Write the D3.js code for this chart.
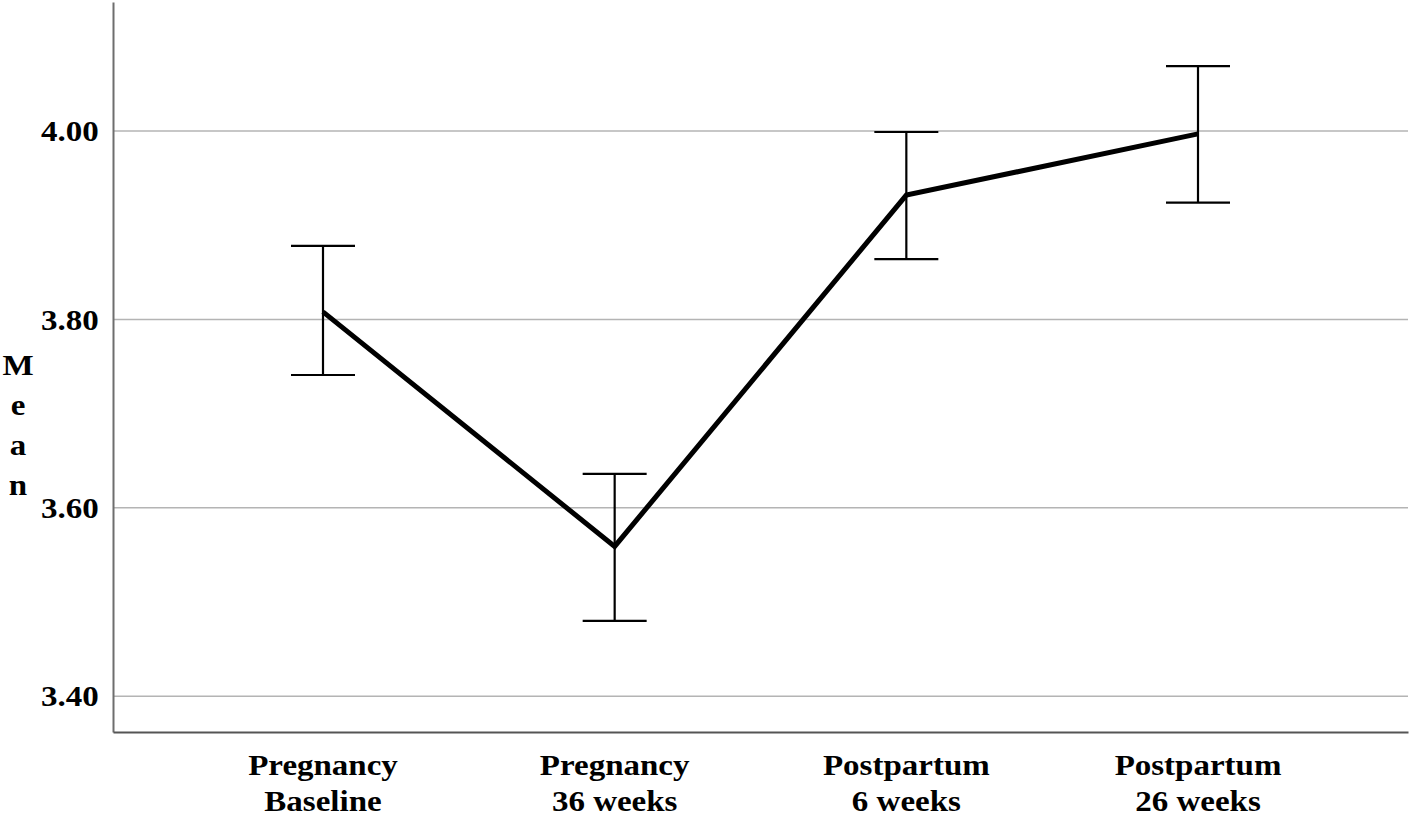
<!DOCTYPE html>
<html><head><meta charset="utf-8">
<script src="https://cdn.jsdelivr.net/npm/d3@7"></script>
<style>body{margin:0;background:#fff}svg{display:block}</style>
</head><body>
<script>
const categories = [["Pregnancy","Baseline"],["Pregnancy","36 weeks"],["Postpartum","6 weeks"],["Postpartum","26 weeks"]];
const means = [3.808, 3.559, 3.932, 3.997];
const upper = [3.878, 3.636, 3.999, 4.069];
const lower = [3.741, 3.480, 3.864, 3.924];
const yTicks = [3.40, 3.60, 3.80, 4.00];
const yLabel = "Mean";

const W = 1418, H = 817;
const m = {left:113, right:10, top:2, bottom:85};
const sx = 1.1;
const svg = d3.select("body").append("svg").attr("width", W).attr("height", H);
const x = d3.scalePoint().domain(d3.range(categories.length)).range([m.left, W - m.right]).padding(0.72);
const y = d3.scaleLinear().domain([3.362, 4.137]).range([H - m.bottom, m.top]);
const font = "'Liberation Serif','Times New Roman',serif";

// gridlines
svg.append("g").selectAll("line").data(yTicks).join("line")
  .attr("x1", m.left).attr("x2", W - m.right)
  .attr("y1", d => y(d)).attr("y2", d => y(d))
  .attr("stroke", "#b4b4b4").attr("stroke-width", 1.5);

// y axis
const ya = svg.append("g").attr("transform", `translate(${m.left},0)`)
  .call(d3.axisLeft(y).tickValues(yTicks).tickFormat(d3.format(".2f")).tickSize(0).tickPadding(13));
ya.select(".domain").attr("stroke", "#6e6e6e").attr("stroke-width", 2);
ya.selectAll("text").attr("font-family", font).attr("font-weight", "bold").attr("font-size", 30).attr("fill", "#000")
  .attr("transform", `scale(${sx},1)`);

// x axis
const xa = svg.append("g").attr("transform", `translate(0,${H - m.bottom})`)
  .call(d3.axisBottom(x).tickSize(0).tickFormat(""));
xa.select(".domain").attr("stroke", "#555").attr("stroke-width", 2);

// category labels
const lab = svg.append("g").selectAll("text").data(categories).join("text")
  .attr("transform", (d,i) => `translate(${x(i)},${H - m.bottom + 43}) scale(${sx},1)`)
  .attr("text-anchor", "middle").attr("font-family", font).attr("font-weight", "bold").attr("font-size", 30);
lab.selectAll("tspan").data(d => d).join("tspan")
  .attr("x", 0).attr("dy", (d,j) => j === 0 ? 0 : 36).text(d => d);

// y label vertical letters
svg.append("g").selectAll("text").data(yLabel.split("")).join("text")
  .attr("transform", (d,i) => `translate(18,${375 + i*40}) scale(${sx},1)`).attr("text-anchor", "middle")
  .attr("font-family", font).attr("font-weight", "bold").attr("font-size", 30).text(d => d);

// error bars
const idx = d3.range(categories.length);
const capW = 32;
const eb = svg.append("g").attr("stroke", "#000").attr("stroke-width", 2.2);
eb.selectAll(".v").data(idx).join("line").attr("x1", i => x(i)).attr("x2", i => x(i))
  .attr("y1", i => y(upper[i])).attr("y2", i => y(lower[i]));
eb.selectAll(".u").data(idx).join("line").attr("x1", i => x(i) - capW).attr("x2", i => x(i) + capW)
  .attr("y1", i => y(upper[i])).attr("y2", i => y(upper[i]));
eb.selectAll(".l").data(idx).join("line").attr("x1", i => x(i) - capW).attr("x2", i => x(i) + capW)
  .attr("y1", i => y(lower[i])).attr("y2", i => y(lower[i]));

// mean line
svg.append("path").datum(idx)
  .attr("d", d3.line().x(i => x(i)).y(i => y(means[i])))
  .attr("fill", "none").attr("stroke", "#000").attr("stroke-width", 5).attr("stroke-linejoin", "miter");
</script>
</body></html>
